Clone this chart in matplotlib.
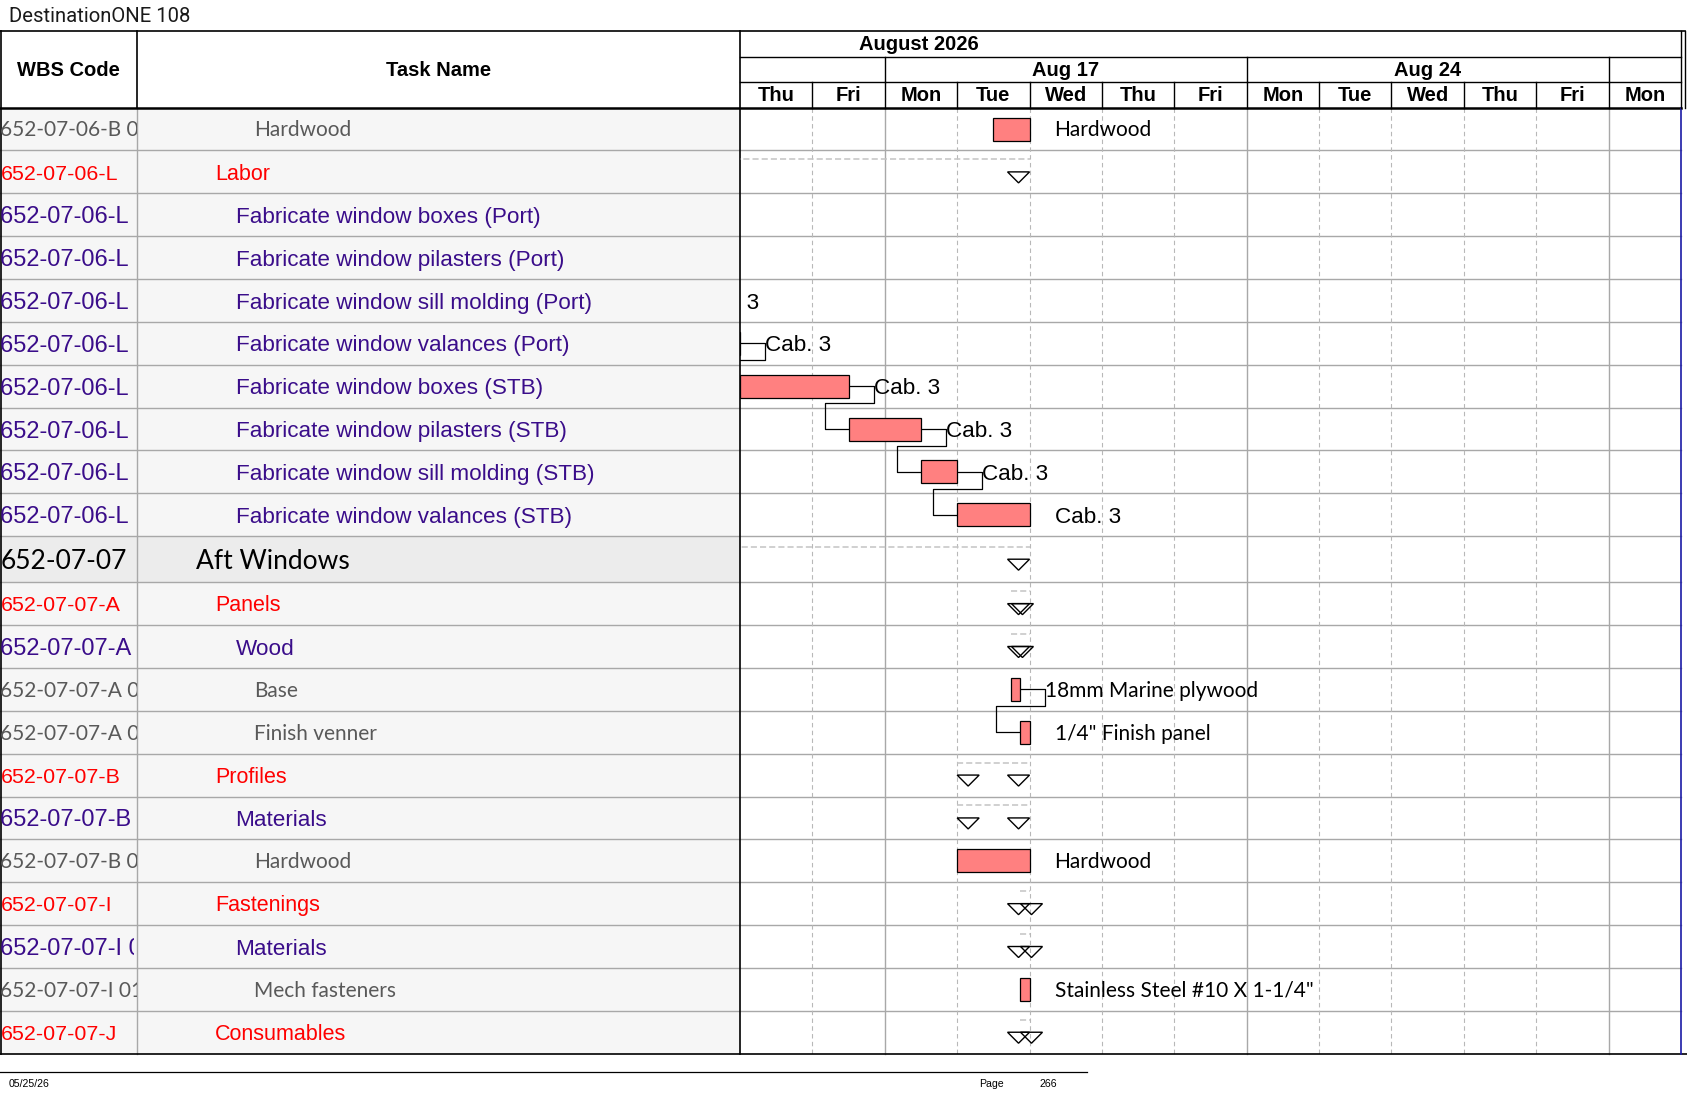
import matplotlib
matplotlib.use("Agg")
import matplotlib.pyplot as plt
from matplotlib.patches import Rectangle, Polygon

# ---------------- data ----------------
title_text = "DestinationONE 108"
month_label = "August 2026"
week_labels = ["", "Aug 17", "Aug 24", ""]
week_bounds = [0, 2, 7, 12, 13]          # working-day indices where weeks begin / end
day_labels = ["Thu", "Fri", "Mon", "Tue", "Wed", "Thu", "Fri",
              "Mon", "Tue", "Wed", "Thu", "Fri", "Mon"]

wbs_codes = [
    "652-07-06-B 01 01", "652-07-06-L", "652-07-06-L 01", "652-07-06-L 02",
    "652-07-06-L 03", "652-07-06-L 04", "652-07-06-L 05", "652-07-06-L 06",
    "652-07-06-L 07", "652-07-06-L 08", "652-07-07", "652-07-07-A",
    "652-07-07-A 01", "652-07-07-A 01 01", "652-07-07-A 01 02", "652-07-07-B",
    "652-07-07-B 01", "652-07-07-B 01 01", "652-07-07-I", "652-07-07-I 01",
    "652-07-07-I 01 01", "652-07-07-J",
]
task_names = [
    "Hardwood", "Labor", "Fabricate window boxes (Port)",
    "Fabricate window pilasters (Port)", "Fabricate window sill molding (Port)",
    "Fabricate window valances (Port)", "Fabricate window boxes (STB)",
    "Fabricate window pilasters (STB)", "Fabricate window sill molding (STB)",
    "Fabricate window valances (STB)", "Aft Windows", "Panels", "Wood", "Base",
    "Finish venner", "Profiles", "Materials", "Hardwood", "Fastenings",
    "Materials", "Mech fasteners", "Consumables",
]
levels = [4, 2, 3, 3, 3, 3, 3, 3, 3, 3, 1, 2, 3, 4, 4, 2, 3, 4, 2, 3, 4, 2]

# task bars, in working days from Thu Aug 13 (weekends skipped)
bar_start = [3.5, None, -4.0, -2.5, -1.5, -1.0, 0.0, 1.5, 2.5, 3.0, None, None,
             None, 3.75, 3.875, None, None, 3.0, None, None, 3.875, None]
bar_finish = [4.0, None, -2.5, -1.5, -1.0, 0.0, 1.5, 2.5, 3.0, 4.0, None, None,
              None, 3.875, 4.0, None, None, 4.0, None, None, 4.0, None]
# summary rows
sum_start = [None, -4.0, None, None, None, None, None, None, None, None, -2.0, 3.75,
             3.75, None, None, 3.0, 3.0, None, 3.875, 3.875, None, 3.875]
sum_finish = [None, 4.0, None, None, None, None, None, None, None, None, 4.0, 4.0,
              4.0, None, None, 4.0, 4.0, None, 4.0, 4.0, None, 4.0]
bar_labels = ["Hardwood", "", "Cab. 3", "Cab. 3", "Cab. 3", "Cab. 3", "Cab. 3",
              "Cab. 3", "Cab. 3", "Cab. 3", "", "", "", "18mm Marine plywood",
              "1/4\" Finish panel", "", "", "Hardwood", "", "",
              "Stainless Steel #10 X 1-1/4\"", ""]
links = [(2, 3), (3, 4), (4, 5), (5, 6), (6, 7), (7, 8), (8, 9), (13, 14)]

footer_date = "05/25/26"
footer_page_label = "Page"
footer_page = "266"

# ---------------- layout / style ----------------
W, H, DPI = 1687, 1097, 100
X_TASK, X_CHART0, X_CHART1 = 137, 740, 1681
Y_TOP, Y_MONTH, Y_WEEK, Y_HEAD = 31, 57, 82, 107.6
ROW_H, ROW_H1 = 42.86, 46.0
ARIAL = ["Liberation Sans", "DejaVu Sans"]
CAL = ["Lato", "DejaVu Sans"]
STYLE = {
    1: dict(color="black", family=CAL, size=19, wsize=19, indent=196, clip=137),
    2: dict(color="#ff0000", family=ARIAL, size=15.5, wsize=15.4, indent=215, clip=134),
    3: dict(color="#3a0d8a", family=ARIAL, size=16.2, wsize=17.0, indent=235.5, clip=134),
    4: dict(color="#595959", family=CAL, size=15, wsize=15, indent=254, clip=137),
}
BAR_COLOR = "#ff8080"
GRID = "#a8a8a8"

n_days = len(day_labels)
dw = (X_CHART1 - X_CHART0) / n_days


def pd(px):
    return px / dw


def dx(d):
    return X_CHART0 + d * dw


row_tops, y = [], Y_HEAD
for lv in levels:
    row_tops.append(y)
    y += ROW_H1 if lv == 1 else ROW_H
Y_BODY = y
row_h = [ROW_H1 if lv == 1 else ROW_H for lv in levels]
row_c = [t + h / 2 for t, h in zip(row_tops, row_h)]


def baseline(c, size):
    return c + 0.358 * size * DPI / 72


fig = plt.figure(figsize=(W / DPI, H / DPI), dpi=DPI)
fig.patch.set_facecolor("white")


def px_axes(x0, y0, x1, y1, xlim=None):
    ax = fig.add_axes([x0 / W, 1 - y1 / H, (x1 - x0) / W, (y1 - y0) / H])
    ax.set_xlim(*(xlim if xlim else (x0, x1)))
    ax.set_ylim(y1, y0)
    ax.axis("off")
    return ax


base = px_axes(0, 0, W, H)

# cell backgrounds
for i, lv in enumerate(levels):
    fc = "#ececec" if lv == 1 else "#f6f6f6"
    base.add_patch(Rectangle((0, row_tops[i]), X_CHART0, row_h[i], fc=fc, ec="none", zorder=0))

# row lines
for i in range(len(levels)):
    yb = row_tops[i] + row_h[i]
    if i < len(levels) - 1:
        base.plot([0, X_CHART1], [yb, yb], color=GRID, lw=1.0, zorder=1)

# chart vertical lines
for d in range(1, n_days):
    if day_labels[d] == "Mon":
        base.plot([dx(d), dx(d)], [Y_HEAD, Y_BODY], color=GRID, lw=1.0, zorder=1)
    else:
        base.plot([dx(d), dx(d)], [Y_HEAD, Y_BODY], color="#b8b8b8", lw=0.8,
                  ls=(0, (4, 3)), zorder=1)

# table separators and frame
base.plot([X_TASK, X_TASK], [Y_HEAD, Y_BODY], color=GRID, lw=1.0, zorder=2)
base.plot([X_TASK, X_TASK], [Y_TOP, Y_HEAD], color="black", lw=1.2, zorder=2)
base.plot([X_CHART0, X_CHART0], [Y_TOP, Y_BODY], color="black", lw=1.2, zorder=2)
base.plot([0.7, 0.7], [Y_TOP, Y_BODY], color="black", lw=1.2, zorder=2)
base.plot([0, X_CHART1 + 4], [Y_TOP, Y_TOP], color="black", lw=1.2, zorder=2)
base.plot([0, X_CHART1], [Y_HEAD, Y_HEAD], color="black", lw=1.8, zorder=2)
base.plot([0, W], [Y_BODY, Y_BODY], color="black", lw=1.2, zorder=2)
base.plot([X_CHART1, X_CHART1], [Y_HEAD, Y_BODY], color="#1a1aa6", lw=1.2, zorder=2)
for xr in (X_CHART1, X_CHART1 + 4):
    base.plot([xr, xr], [Y_TOP, Y_HEAD], color="black", lw=1.0, zorder=2)
base.plot([X_CHART0, X_CHART1], [Y_MONTH, Y_MONTH], color="black", lw=1.0, zorder=2)
base.plot([X_CHART0, X_CHART1], [Y_WEEK, Y_WEEK], color="black", lw=1.0, zorder=2)
for wb in week_bounds[1:-1]:
    base.plot([dx(wb), dx(wb)], [Y_MONTH, Y_WEEK], color="black", lw=1.0, zorder=2)
for d in range(1, n_days):
    base.plot([dx(d), dx(d)], [Y_WEEK, Y_HEAD], color="black", lw=1.0, zorder=2)

# header texts
HF = dict(family=ARIAL, weight="bold", size=14.5, color="black")
base.text(X_TASK / 2, 76, "WBS Code", ha="center", va="baseline", **HF)
base.text((X_TASK + X_CHART0) / 2, 76, "Task Name", ha="center", va="baseline", **HF)
base.text(919, 50, month_label, ha="center", va="baseline", **HF)
for k, lab in enumerate(week_labels):
    if lab:
        base.text((dx(week_bounds[k]) + dx(week_bounds[k + 1])) / 2, 75.5, lab,
                  ha="center", va="baseline", **HF)
for d, lab in enumerate(day_labels):
    base.text(dx(d + 0.5), 101, lab, ha="center", va="baseline", **HF)

# title and footer
base.text(9, 22.5, title_text, ha="left", va="baseline", family=["Roboto", "DejaVu Sans"],
          weight="normal", size=14.6, color="#1a1a1a")
base.plot([0, 1087], [1071.6, 1071.6], color="black", lw=0.9)
FF = dict(family=["Liberation Sans Narrow", "Liberation Sans"], size=7.6, color="black",
          va="baseline", ha="left")
base.text(9, 1087, footer_date, **FF)
base.text(979, 1087, footer_page_label, **FF)
base.text(1040, 1087, footer_page, **FF)

# table text (clipped to columns)
wbs_axes = {}
for clip in sorted({st["clip"] for st in STYLE.values()}):
    wbs_axes[clip] = px_axes(0, Y_HEAD, clip, Y_BODY)
ax_task = px_axes(X_TASK, Y_HEAD, X_CHART0, Y_BODY)
for i, lv in enumerate(levels):
    st = STYLE[lv]
    wbs_axes[st["clip"]].text(0.5, baseline(row_c[i], st["wsize"]), wbs_codes[i],
                              ha="left", va="baseline", color=st["color"],
                              family=st["family"], size=st["wsize"], clip_on=True)
    ax_task.text(st["indent"], baseline(row_c[i], st["size"]), task_names[i],
                 ha="left", va="baseline", color=st["color"], family=st["family"],
                 size=st["size"], clip_on=True)

# gantt chart
ax = px_axes(X_CHART0, Y_HEAD, X_CHART1, Y_BODY, xlim=(0, n_days))
TRI_W, TRI_H = pd(22), 11
for i, lv in enumerate(levels):
    c = row_c[i]
    if sum_start[i] is not None:
        s, f = sum_start[i], sum_finish[i]
        ax.plot([s, f], [c - 12.5, c - 12.5], color="#c4c4c4", lw=1.1,
                ls=(0, (4, 2)), zorder=2, clip_on=True)
        ax.add_patch(Polygon([(f - TRI_W, c), (f, c), (f - TRI_W / 2, c + TRI_H)],
                             closed=True, fc="none", ec="black", lw=1.0, zorder=3,
                             clip_on=True))
        ax.add_patch(Polygon([(s, c), (s + TRI_W, c), (s + TRI_W / 2, c + TRI_H)],
                             closed=True, fc="none", ec="black", lw=1.0, zorder=3,
                             clip_on=True))
    if bar_start[i] is not None:
        s, f = bar_start[i], bar_finish[i]
        ax.add_patch(Rectangle((s, c - 11.5), f - s, 23, fc=BAR_COLOR, ec="black",
                               lw=0.9, zorder=4, clip_on=True))
        if bar_labels[i]:
            if lv == 3:
                fam, sz = ARIAL, 16.2
            else:
                fam, sz = CAL, 15
            ax.text(f + pd(25), baseline(c, sz), bar_labels[i], ha="left",
                    va="baseline", family=fam, size=sz, color="black", zorder=5,
                    clip_on=True)

for p, q in links:
    xe, yp = bar_finish[p], row_c[p]
    xs, ys = bar_start[q], row_c[q]
    xa = xe + pd(25)
    xb = xs - pd(24)
    ym = yp + 17
    ax.plot([xe, xa, xa, xb, xb, xs], [yp, yp, ym, ym, ys, ys], color="black",
            lw=0.9, zorder=3, clip_on=True)

fig.savefig("out.png", dpi=DPI, facecolor="white")
